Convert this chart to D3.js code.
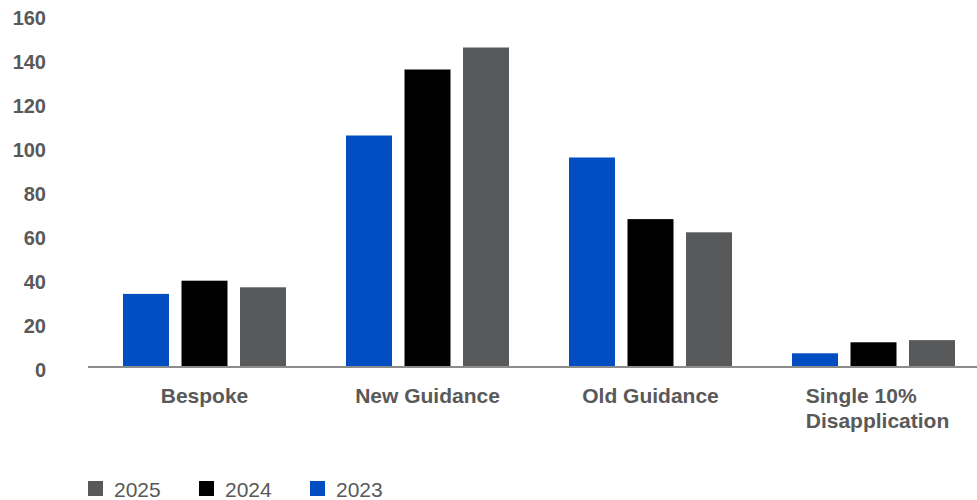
<!DOCTYPE html>
<html>
<head>
<meta charset="utf-8">
<script src="https://cdn.jsdelivr.net/npm/d3@7"></script>
<style>
  html, body { margin: 0; padding: 0; background: #fff; }
  svg { display: block; font-family: "Liberation Sans", Arial, sans-serif; }
</style>
</head>
<body>
<svg id="chart" width="977" height="500"></svg>
<script>
const categories = ["Bespoke", "New Guidance", "Old Guidance", "Single 10%\nDisapplication"];
const seriesNames = ["2023", "2024", "2025"];
const values2023 = [33, 105, 95, 6];
const values2024 = [39, 135, 67, 11];
const values2025 = [36, 145, 61, 12];
const yTicks = [0, 20, 40, 60, 80, 100, 120, 140, 160];
const legendOrder = ["2025", "2024", "2023"];
const colors = { "2023": "#004EC1", "2024": "#000000", "2025": "#58595B" };

const seriesValues = { "2023": values2023, "2024": values2024, "2025": values2025 };
const svg = d3.select("#chart");

const y = d3.scaleLinear().domain([0, 160]).range([366.5, 14.5]);
const x0 = d3.scaleBand().domain(categories).range([93, 985]).paddingInner(0.269).paddingOuter(0.1345);
const x1 = d3.scaleBand().domain(seriesNames).range([0, x0.bandwidth()]).paddingInner(0.214).paddingOuter(0);

// Y axis labels
const yAxis = d3.axisLeft(y).tickValues(yTicks).tickSize(0).tickPadding(0);
const gy = svg.append("g").attr("transform", "translate(46,0)").call(yAxis);
gy.select(".domain").remove();
gy.selectAll("text")
  .attr("fill", "#595959")
  .attr("font-size", "20px")
  .attr("font-weight", "bold")
  .attr("font-family", "Liberation Sans, Arial, sans-serif")
  .attr("dy", "0.32em")
  .attr("y", 4)
  .attr("x", 0);

// Bars
const groups = svg.append("g").selectAll("g")
  .data(categories)
  .join("g")
  .attr("transform", d => `translate(${x0(d)},0)`);

groups.selectAll("rect")
  .data((c, i) => seriesNames.map(s => ({ s, v: seriesValues[s][i] })))
  .join("rect")
  .attr("x", d => x1(d.s))
  .attr("width", x1.bandwidth())
  .attr("y", d => y(d.v))
  .attr("height", d => y(0) - y(d.v))
  .attr("fill", d => colors[d.s]);

// Baseline
svg.append("line")
  .attr("x1", 88).attr("x2", 977)
  .attr("y1", y(0) + 0.5).attr("y2", y(0) + 0.5)
  .attr("stroke", "#8C8C8C").attr("stroke-width", 2);

// Category labels
categories.forEach(c => {
  const lines = c.split("\n");
  const cx = x0(c) + x0.bandwidth() / 2;
  const t = svg.append("text")
    .attr("fill", "#595959")
    .attr("font-size", "21px")
    .attr("font-weight", "bold")
    .attr("y", 403);
  lines.forEach((l, i) => {
    t.append("tspan").attr("dy", i === 0 ? 0 : 25).text(l);
  });
  if (lines.length === 1) {
    t.attr("text-anchor", "middle").selectAll("tspan").attr("x", cx);
  } else {
    let w = 0;
    t.selectAll("tspan").each(function () { w = Math.max(w, this.getComputedTextLength()); });
    t.selectAll("tspan").attr("x", cx - w / 2 + 4);
  }
});

// Legend
const legend = svg.append("g").selectAll("g")
  .data(legendOrder)
  .join("g")
  .attr("transform", (d, i) => `translate(${88 + i * 111},481)`);
legend.append("rect").attr("width", 15).attr("height", 15).attr("fill", d => colors[d]);
legend.append("text")
  .attr("x", 26).attr("y", 15.5)
  .attr("fill", "#595959")
  .attr("font-size", "21px")
  .text(d => d);
</script>
</body>
</html>
